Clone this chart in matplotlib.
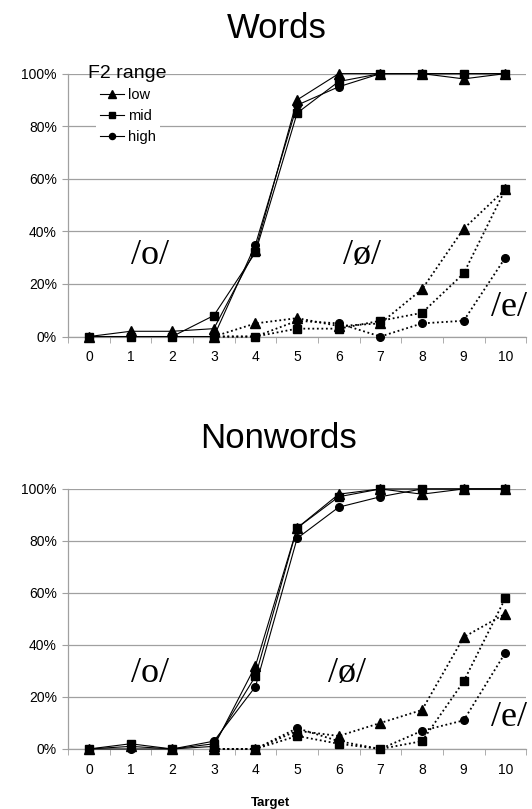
import matplotlib
matplotlib.use("Agg")
import matplotlib.pyplot as plt
import numpy as np

plt.rcParams['font.family'] = ['Liberation Sans', 'DejaVu Sans']

# target steps
targets = list(range(11))
e_targets = list(range(3, 11))
series = ['low', 'mid', 'high']
markers = {'low': '^', 'mid': 's', 'high': 'o'}
msizes = {'low': 6.5, 'mid': 5.5, 'high': 5.5}

# Words: /ø/ responses (solid) and /e/ responses (dotted), percent
words_oe = {
    'low':  [0, 2, 2, 3, 33, 90, 100, 100, 100, 98, 100],
    'mid':  [0, 0, 0, 8, 32, 85, 97, 100, 100, 100, 100],
    'high': [0, 0, 0, 0, 35, 88, 95, 100, 100, 100, 100],
}
words_e = {
    'low':  [0, 5, 7, 4, 5, 18, 41, 56],
    'mid':  [0, 0, 3, 3, 6, 9, 24, 56],
    'high': [0, 0, 6, 5, 0, 5, 6, 30],
}

# Nonwords
nonwords_oe = {
    'low':  [0, 1, 0, 1, 32, 85, 98, 100, 98, 100, 100],
    'mid':  [0, 2, 0, 2, 28, 85, 97, 100, 100, 100, 100],
    'high': [0, 0, 0, 3, 24, 81, 93, 97, 100, 100, 100],
}
nonwords_e = {
    'low':  [0, 0, 7, 5, 10, 15, 43, 52],
    'mid':  [0, 0, 5, 2, 0, 3, 26, 58],
    'high': [0, 0, 8, 3, 0, 7, 11, 37],
}

y_ticks = [0, 20, 40, 60, 80, 100]
grid_col = '#a0a0a0'

fig = plt.figure(figsize=(5.32, 8.09), dpi=100)


def draw(ax, oe, e, vowel_pos, legend=False):
    for s in series:
        ax.plot(targets, oe[s], color='black', lw=0.8, marker=markers[s],
                ms=msizes[s], clip_on=False, zorder=4, label=s)
        ax.plot(e_targets, e[s], color='black', lw=1.3, ls=(0, (1, 1.5)),
                marker=markers[s], ms=msizes[s], clip_on=False, zorder=3)
    ax.set_xlim(-0.5, 10.5)
    ax.set_ylim(0, 100)
    ax.set_yticks(y_ticks)
    ax.set_yticklabels([f'{v}%' for v in y_ticks])
    ax.set_xticks(targets)
    ax.set_xticks(np.arange(-0.5, 10.6, 1), minor=True)
    ax.tick_params(axis='x', which='major', length=0, pad=10, labelsize=10)
    ax.tick_params(axis='x', which='minor', length=4, color=grid_col, direction='out')
    ax.tick_params(axis='y', length=4, color=grid_col, pad=4, labelsize=10)
    ax.grid(axis='y', color=grid_col, lw=0.9)
    ax.set_axisbelow(True)
    for sp in ['top', 'right']:
        ax.spines[sp].set_visible(False)
    for sp in ['left', 'bottom']:
        ax.spines[sp].set_color(grid_col)
        ax.spines[sp].set_linewidth(0.9)
    for txt, (x, y) in zip(['/o/', '/ø/', '/e/'], vowel_pos):
        ax.text(x, y, txt, family=['Liberation Serif', 'DejaVu Serif'],
                fontsize=26, ha='center', va='center', zorder=2)
    if legend:
        leg = ax.legend(loc='upper left', bbox_to_anchor=(0.045, 0.99),
                        frameon=True, fontsize=10.5, handlelength=1.6,
                        handletextpad=0.3, labelspacing=0.5, borderpad=0.3,
                        markerscale=0.8)
        leg.get_frame().set_edgecolor('none')
        leg.get_frame().set_facecolor('white')
        leg.get_frame().set_alpha(1)
        leg.set_zorder(5)
        ax.text(-0.03, 100, 'F2 range', fontsize=14, va='center', ha='left',
                zorder=6)


ax1 = fig.add_axes([0.128, 0.584, 0.861, 0.325])
draw(ax1, words_oe, words_e, [(1.47, 31), (6.57, 31), (10.1, 11)], legend=True)

ax2 = fig.add_axes([0.128, 0.0742, 0.861, 0.3214])
draw(ax2, nonwords_oe, nonwords_e, [(1.47, 29), (6.2, 29), (10.1, 12)])

fig.text(277 / 532, 1 - 38 / 809, 'Words', fontsize=25, ha='center', va='baseline')
fig.text(278 / 532, 1 - 448 / 809, 'Nonwords', fontsize=25, ha='center', va='baseline')
fig.text(270 / 532, 1 - 806 / 809, 'Target', fontsize=9.5, fontweight='bold',
         ha='center', va='baseline')

fig.savefig('out.png', dpi=100)
